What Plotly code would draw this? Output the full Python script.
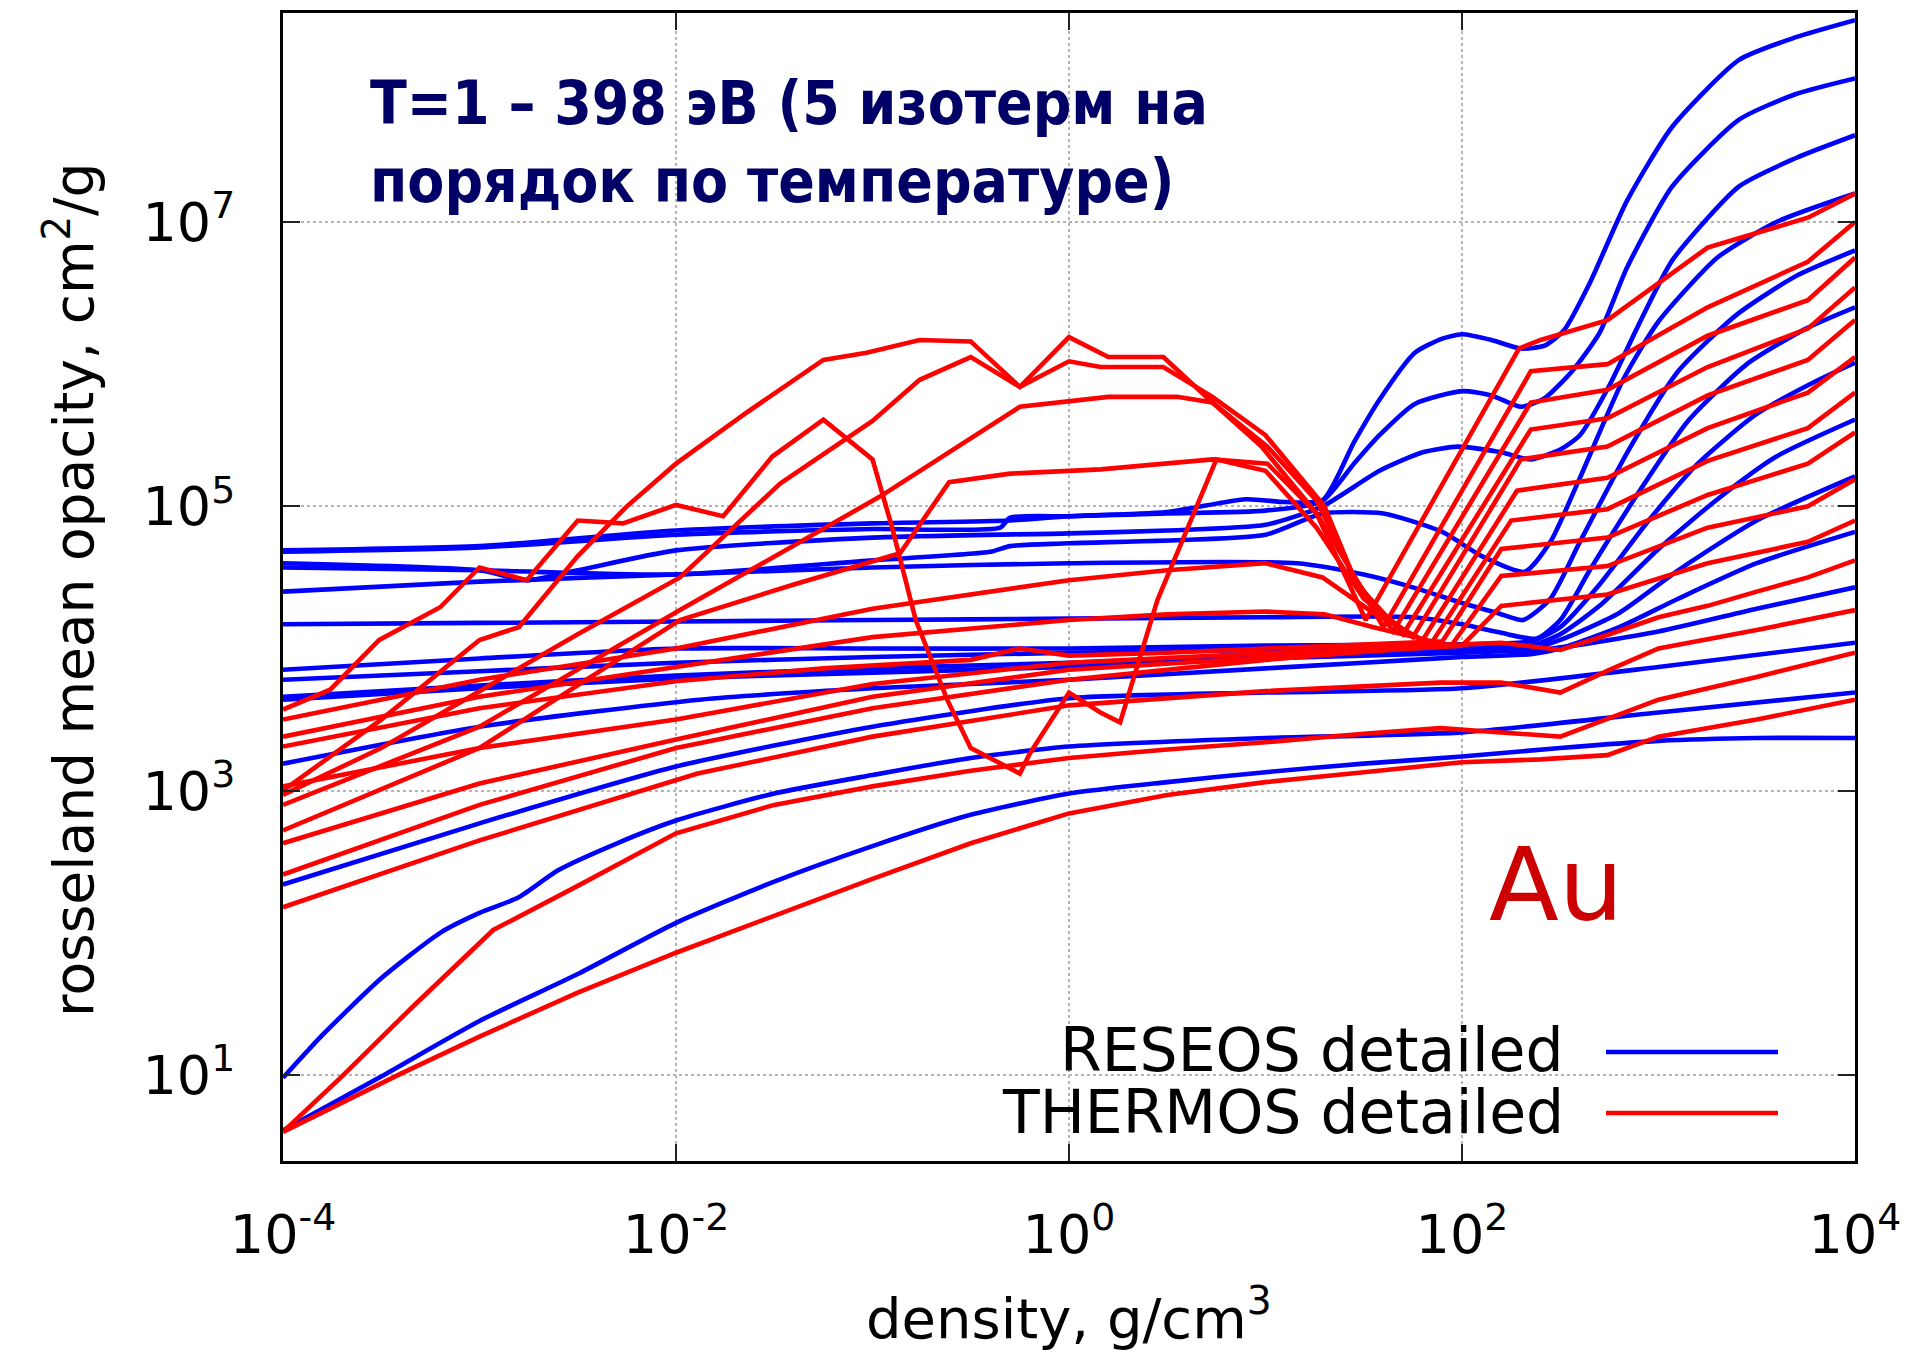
import plotly.graph_objects as go

# ---------------- data: (log10 density [g/cm3], log10 opacity [cm2/g]) ----------------
# RESEOS detailed (blue)
RESEOS_A = [(-4.0,0.61),(-3.5,0.99),(-3.0,1.38),(-2.5,1.71),(-2.0,2.07),(-1.5,2.36),(-1.0,2.61),(-0.5,2.83),(0.0,2.98),(0.5,3.06),(1.0,3.13),(1.5,3.19),(2.0,3.24),(2.5,3.30),(3.0,3.35),(3.5,3.37),(4.0,3.37)]
RESEOS_B = [(-4.0,0.98),(-3.8,1.28),(-3.5,1.68),(-3.2,2.00),(-3.0,2.14),(-2.8,2.25),(-2.6,2.44),(-2.3,2.63),(-2.0,2.79),(-1.5,2.98),(-1.0,3.11),(-0.5,3.23),(0.0,3.31),(1.0,3.37),(2.0,3.41),(3.0,3.55),(4.0,3.69)]
RESEOS_C = [(-4.0,2.34),(-3.0,2.77),(-2.0,3.17),(-1.0,3.45),(0.0,3.65),(1.0,3.69),(2.0,3.72),(3.0,3.87),(4.0,4.04)]
RESEOS_D = [(-4.0,3.19),(-3.0,3.45),(-1.88,3.64),(-1.0,3.72),(0.0,3.78),(1.0,3.86),(1.5,3.90),(2.0,3.94),(2.35,3.96),(2.5,4.0),(2.8,4.15),(3.1,4.35),(3.5,4.6),(4.0,4.82)]
RESEOS_E = [(-4.0,3.66),(-3.0,3.74),(-2.0,3.81),(-1.0,3.86),(0.0,3.90),(1.0,3.95),(2.0,3.98),(2.4,3.99),(3.0,4.12),(3.5,4.28),(4.0,4.43)]
RESEOS_F = [(-4.0,3.64),(-3.0,3.72),(-2.0,3.79),(-1.0,3.83),(0.0,3.87),(1.0,3.93),(2.0,3.97),(2.35,4.0),(2.5,4.06),(2.8,4.25),(3.1,4.55),(3.5,4.9),(4.0,5.21)]
RESEOS_G = [(-4.0,3.78),(-3.0,3.84),(-2.0,3.90),(-1.0,3.94),(0.0,3.97),(1.0,3.99),(2.0,4.0),(2.35,4.02),(2.5,4.1),(2.7,4.3),(3.0,4.7),(3.3,5.05),(3.6,5.35),(4.0,5.61)]
RESEOS_H = [(-4.0,3.85),(-3.0,3.93),(-2.0,4.0),(-1.0,4.0),(0.0,4.0),(1.0,4.02),(2.0,4.03),(2.35,4.05),(2.5,4.15),(2.7,4.45),(2.95,4.9),(3.2,5.3),(3.5,5.65),(3.8,5.88),(4.0,6.01)]
RESEOS_I = [(-4.0,4.17),(-3.0,4.18),(-2.0,4.19),(-1.0,4.20),(0.0,4.21),(1.0,4.22),(1.75,4.22),(2.0,4.17),(2.2,4.11),(2.38,4.07),(2.5,4.2),(2.65,4.55),(2.9,5.1),(3.15,5.6),(3.45,6.0),(3.75,6.25),(4.0,6.40)]
RESEOS_J = [(-4.0,4.40),(-3.0,4.47),(-2.0,4.52),(-1.0,4.57),(0.0,4.60),(1.16,4.60),(1.5,4.52),(1.75,4.43),(2.0,4.32),(2.18,4.25),(2.31,4.20),(2.45,4.35),(2.6,4.75),(2.85,5.4),(3.1,5.95),(3.4,6.35),(3.7,6.62),(4.0,6.80)]
RESEOS_K = [(-4.0,4.57),(-3.0,4.55),(-2.0,4.52),(-1.0,4.62),(-0.4,4.68),(-0.3,4.72),(0.0,4.74),(1.0,4.80),(1.29,4.95),(1.6,4.95),(1.9,4.82),(2.1,4.65),(2.32,4.54),(2.45,4.75),(2.6,5.2),(2.82,5.89),(3.0,6.3),(3.3,6.75),(3.6,7.0),(4.0,7.20)]
RESEOS_L = [(-4.0,4.60),(-3.0,4.55),(-2.76,4.48),(-2.5,4.55),(-2.0,4.69),(-1.0,4.78),(0.0,4.81),(0.5,4.83),(1.0,4.87),(1.29,5.0),(1.58,5.25),(1.8,5.38),(1.98,5.42),(2.2,5.38),(2.35,5.33),(2.5,5.40),(2.6,5.5),(2.75,5.85),(2.9,6.28),(3.07,6.73),(3.41,7.25),(3.7,7.45),(4.0,7.61)]
RESEOS_M = [(-4.0,4.68),(-3.0,4.71),(-2.0,4.80),(-1.0,4.84),(-0.35,4.85),(-0.3,4.92),(0.0,4.93),(0.5,4.96),(0.9,5.05),(1.1,5.03),(1.29,5.04),(1.45,5.3),(1.58,5.5),(1.76,5.72),(2.0,5.81),(2.15,5.78),(2.3,5.70),(2.42,5.76),(2.56,5.95),(2.70,6.22),(2.84,6.68),(3.07,7.25),(3.41,7.72),(3.7,7.9),(4.0,8.01)]
RESEOS_N = [(-4.0,4.69),(-3.0,4.72),(-2.0,4.83),(-1.0,4.88),(-0.3,4.90),(0.0,4.93),(0.5,4.95),(1.0,4.97),(1.29,5.04),(1.45,5.45),(1.58,5.75),(1.76,6.08),(1.9,6.18),(2.0,6.21),(2.15,6.17),(2.3,6.11),(2.42,6.13),(2.52,6.24),(2.65,6.57),(2.84,7.15),(3.07,7.67),(3.41,8.14),(3.7,8.30),(4.0,8.42)]

# THERMOS detailed (red)
THERMOS_A = [(-4.0,0.60),(-3.4,1.01),(-3.0,1.27),(-2.5,1.58),(-2.0,1.86),(-1.5,2.12),(-1.0,2.38),(-0.5,2.63),(0.0,2.84),(0.5,2.97),(1.0,3.06),(1.5,3.13),(2.0,3.20),(2.4,3.22),(2.74,3.25),(3.0,3.38),(3.5,3.50),(4.0,3.64)]
THERMOS_B = [(-4.0,0.60),(-3.7,0.99),(-3.34,1.48),(-2.93,2.02),(-2.5,2.33),(-2.0,2.70),(-1.5,2.90),(-1.0,3.03),(-0.5,3.14),(0.0,3.23),(0.5,3.29),(1.0,3.34),(1.5,3.40),(1.89,3.44),(2.5,3.38),(3.0,3.64),(3.5,3.80),(4.0,3.97)]
THERMOS_C = [(-4.0,2.18),(-3.0,2.65),(-1.89,3.12),(-1.0,3.38),(0.0,3.60),(1.0,3.70),(1.89,3.76),(2.2,3.76),(2.5,3.69),(2.75,3.85),(3.0,4.0),(3.5,4.13),(4.0,4.27)]
THERMOS_D = [(-4.0,2.41),(-3.0,2.90),(-2.0,3.30),(-1.0,3.58),(0.0,3.78),(1.0,3.92),(1.89,4.02),(2.2,4.04),(2.5,3.99),(2.75,4.1),(3.0,4.22),(3.25,4.3),(3.5,4.4),(3.76,4.5),(4.0,4.62)]
THERMOS_E = [(-4.0,2.63),(-3.0,3.05),(-2.0,3.36),(-1.0,3.66),(0.0,3.85),(1.0,3.94),(1.5,3.98),(2.0,4.02),(2.2,4.30),(2.74,4.38),(3.25,4.6),(3.76,4.75),(4.0,4.90)]
THERMOS_F = [(-4.0,3.03),(-3.0,3.30),(-2.0,3.50),(-1.0,3.75),(0.0,3.90),(1.0,3.97),(1.5,4.0),(1.95,4.03),(2.2,4.51),(2.74,4.58),(3.25,4.85),(3.76,5.0),(4.0,5.19)]
THERMOS_G = [(-4.0,3.31),(-3.0,3.58),(-2.0,3.77),(-1.25,3.86),(-0.5,3.92),(-0.25,4.0),(0.0,3.95),(0.5,3.97),(1.0,4.0),(1.5,4.03),(1.9,4.05),(2.2,4.70),(2.74,4.78),(3.25,5.08),(3.76,5.3),(4.0,5.52)]
THERMOS_H = [(-4.0,3.38),(-3.0,3.66),(-2.0,3.87),(-1.0,4.08),(0.0,4.20),(0.5,4.24),(1.0,4.26),(1.3,4.24),(1.55,4.15),(1.85,4.05),(2.25,4.90),(2.74,4.98),(3.25,5.32),(3.76,5.55),(4.0,5.80)]
THERMOS_I = [(-4.0,3.50),(-3.0,3.78),(-2.0,4.0),(-1.0,4.28),(0.0,4.48),(0.5,4.55),(1.0,4.60),(1.29,4.50),(1.55,4.25),(1.8,4.06),(2.28,5.11),(2.74,5.20),(3.25,5.55),(3.76,5.80),(4.0,6.05)]
THERMOS_J = [(-4.0,3.57),(-3.76,3.71),(-3.51,4.06),(-3.2,4.29),(-3.0,4.57),(-2.76,4.48),(-2.5,4.90),(-2.27,4.88),(-2.0,5.01),(-1.76,4.93),(-1.51,5.35),(-1.25,5.61),(-1.0,5.33),(-0.9,4.85),(-0.78,4.2),(-0.62,3.64),(-0.5,3.3),(-0.25,3.12),(-0.2,3.26),(0.0,3.69),(0.16,3.55),(0.26,3.48),(0.45,4.34),(0.75,5.33),(1.0,5.25),(1.26,4.85),(1.5,4.35),(1.75,4.08),(2.30,5.33),(2.74,5.42),(3.25,5.78),(3.76,6.03),(4.0,6.31)]
THERMOS_K = [(-4.0,2.72),(-3.0,3.3),(-1.98,4.20),(-1.4,4.45),(-0.86,4.67),(-0.61,5.17),(-0.30,5.23),(0.16,5.26),(0.73,5.33),(1.01,5.30),(1.26,4.95),(1.5,4.4),(1.7,4.10),(2.35,5.54),(2.74,5.62),(3.25,5.98),(3.76,6.25),(4.0,6.54)]
THERMOS_L = [(-4.0,2.90),(-3.0,3.45),(-1.98,4.27),(-0.96,5.07),(-0.25,5.70),(0.20,5.77),(0.55,5.77),(0.73,5.73),(1.01,5.42),(1.26,5.04),(1.45,4.5),(1.65,4.12),(2.35,5.73),(2.74,5.82),(3.25,6.2),(3.76,6.45),(4.0,6.75)]
THERMOS_M = [(-4.0,2.97),(-3.5,3.3),(-3.0,3.7),(-2.5,4.1),(-1.98,4.50),(-1.47,5.16),(-1.0,5.6),(-0.76,5.89),(-0.50,6.05),(-0.25,5.84),(0.0,6.02),(0.16,5.98),(0.48,5.98),(0.73,5.77),(1.0,5.50),(1.3,5.0),(1.45,4.5),(1.6,4.15),(2.35,5.95),(2.74,6.0),(3.25,6.40),(3.76,6.72),(4.0,7.0)]
THERMOS_N = [(-4.0,3.0),(-3.5,3.5),(-3.0,4.06),(-2.8,4.15),(-2.5,4.65),(-2.25,5.0),(-2.0,5.3),(-1.64,5.66),(-1.25,6.03),(-1.03,6.08),(-0.76,6.17),(-0.50,6.16),(-0.25,5.84),(0.0,6.19),(0.20,6.05),(0.48,6.05),(0.73,5.73),(0.98,5.42),(1.26,4.95),(1.51,4.20),(2.29,6.11),(2.40,6.17),(2.74,6.31),(3.25,6.82),(3.76,7.03),(4.0,7.20)]

RESEOS_CURVES = [RESEOS_A, RESEOS_B, RESEOS_C, RESEOS_D, RESEOS_E, RESEOS_F, RESEOS_G,
                 RESEOS_H, RESEOS_I, RESEOS_J, RESEOS_K, RESEOS_L, RESEOS_M, RESEOS_N]
THERMOS_CURVES = [THERMOS_A, THERMOS_B, THERMOS_C, THERMOS_D, THERMOS_E, THERMOS_F, THERMOS_G,
                  THERMOS_H, THERMOS_I, THERMOS_J, THERMOS_K, THERMOS_L, THERMOS_M, THERMOS_N]

X_TICKS = [1e-4, 1e-2, 1e0, 1e2, 1e4]
X_TICKTEXT = ["10<sup>-4</sup>", "10<sup>-2</sup>", "10<sup>0</sup>", "10<sup>2</sup>", "10<sup>4</sup>"]
Y_TICKS = [1e1, 1e3, 1e5, 1e7]
Y_TICKTEXT = ["10<sup>1</sup>", "10<sup>3</sup>", "10<sup>5</sup>", "10<sup>7</sup>"]

TITLE_TEXT = "T=1 – 398 эВ (5 изотерм на<br>порядок по температуре)"
LEGEND_LABELS = ["RESEOS detailed", "THERMOS detailed"]

# ---------------- layout geometry (pixels) ----------------
W, H = 1910, 1353
L, R, T, B = 283, 55, 13, 192
PW, PH = W - L - R, H - T - B

def px(xp):
    return (xp - L) / PW

def py(yp):
    return 1 - (yp - T) / PH

BLUE = "#0000ff"
RED = "#ff0000"
FONT = "DejaVu Sans, Liberation Sans, Arial, sans-serif"

fig = go.Figure()
for pts in RESEOS_CURVES:
    fig.add_trace(go.Scatter(
        x=[10 ** a for a, b in pts], y=[10 ** b for a, b in pts], mode="lines",
        line=dict(color=BLUE, width=4.6, shape="spline", smoothing=0.6),
        showlegend=False, hoverinfo="skip"))
for pts in THERMOS_CURVES:
    fig.add_trace(go.Scatter(
        x=[10 ** a for a, b in pts], y=[10 ** b for a, b in pts], mode="lines",
        line=dict(color=RED, width=4.6),
        showlegend=False, hoverinfo="skip"))

axis_common = dict(
    type="log", ticks="inside", ticklen=17, tickwidth=2, tickcolor="#222",
    showline=True, linewidth=3, linecolor="black", mirror="ticks",
    showgrid=True, gridcolor="#b4b4b4", griddash="dot", gridwidth=1.5,
    zeroline=False, tickfont=dict(family=FONT, size=54, color="black"))

fig.update_xaxes(range=[-4, 4], tickvals=X_TICKS, ticktext=X_TICKTEXT,
                 ticklabelstandoff=24, **axis_common)
fig.update_yaxes(range=[0.395, 8.47], tickvals=Y_TICKS, ticktext=Y_TICKTEXT,
                 ticklabelstandoff=34, **axis_common)

annotations = [
    dict(text="<b>" + TITLE_TEXT + "</b>", x=px(368), y=py(66), xref="paper", yref="paper",
         xanchor="left", yanchor="top", showarrow=False, align="left",
         font=dict(family="DejaVu Sans Condensed, Liberation Sans Narrow, Roboto, sans-serif",
                   size=60, color="#000066")),
    dict(text="Au", x=px(1556), y=py(884), xref="paper", yref="paper",
         xanchor="center", yanchor="middle", showarrow=False,
         font=dict(family=FONT, size=102, color="#cc0000")),
    dict(text=LEGEND_LABELS[0], x=px(1566), y=py(1050), xref="paper", yref="paper",
         xanchor="right", yanchor="middle", showarrow=False,
         font=dict(family=FONT, size=60, color="black")),
    dict(text=LEGEND_LABELS[1], x=px(1566), y=py(1112), xref="paper", yref="paper",
         xanchor="right", yanchor="middle", showarrow=False,
         font=dict(family=FONT, size=60, color="black")),
    dict(text="rosseland mean opacity, cm<sup>2</sup>/g", x=px(70), y=py(590),
         xref="paper", yref="paper", xanchor="center", yanchor="middle",
         textangle=-90, showarrow=False,
         font=dict(family=FONT, size=55, color="black")),
    dict(text="density, g/cm<sup>3</sup>", x=px(1069), y=py(1314),
         xref="paper", yref="paper", xanchor="center", yanchor="middle",
         showarrow=False, font=dict(family=FONT, size=56, color="black")),
]

shapes = [
    dict(type="line", xref="paper", yref="paper", x0=px(1606), x1=px(1778),
         y0=py(1052), y1=py(1052), line=dict(color=BLUE, width=4.5)),
    dict(type="line", xref="paper", yref="paper", x0=px(1606), x1=px(1778),
         y0=py(1113), y1=py(1113), line=dict(color=RED, width=4.5)),
]

fig.update_layout(
    width=W, height=H, margin=dict(l=L, r=R, t=T, b=B, autoexpand=False),
    paper_bgcolor="white", plot_bgcolor="white",
    annotations=annotations, shapes=shapes, showlegend=False)

fig.write_html("out.html")
